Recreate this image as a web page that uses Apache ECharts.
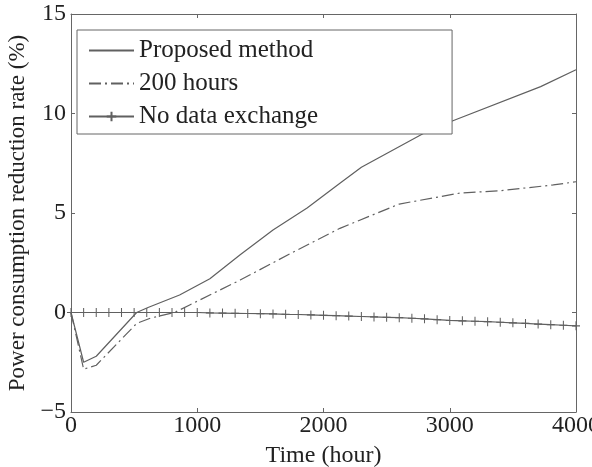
<!DOCTYPE html>
<html>
<head>
<meta charset="utf-8">
<script src="https://cdn.jsdelivr.net/npm/echarts@6/dist/echarts.min.js"></script>
<style>
html,body{margin:0;padding:0;background:#fff;}
#chart{width:592px;height:467px;}
</style>
</head>
<body>
<div id="chart"></div>
<script>
// Series names
const seriesNames = ['Proposed method', '200 hours', 'No data exchange'];

// Proposed method (read points)
const proposedHours = [0, 100, 200, 520, 610, 860, 1100, 1340, 1600, 1870, 2130, 2300, 2820, 3030, 3720, 4000];
const proposedValues = [0, -2.5, -2.2, 0.0, 0.25, 0.88, 1.7, 2.9, 4.15, 5.25, 6.5, 7.3, 9.1, 9.65, 11.35, 12.2];

// 200 hours (read points)
const h200Hours = [0, 100, 200, 520, 630, 820, 940, 1340, 1740, 2130, 2600, 3080, 3400, 3820, 4000];
const h200Values = [0, -2.85, -2.65, -0.55, -0.28, 0.0, 0.38, 1.63, 2.97, 4.23, 5.45, 6.0, 6.12, 6.41, 6.57];

// No data exchange (markers every 100 hours)
const noExHours = [0,100,200,300,400,500,600,700,800,900,1000,1100,1200,1300,1400,1500,1600,1700,1800,1900,2000,2100,2200,2300,2400,2500,2600,2700,2800,2900,3000,3100,3200,3300,3400,3500,3600,3700,3800,3900,4000];
const noExValues = [0,0,0,0,0,0,0,0,0,0,0,-0.02,-0.03,-0.04,-0.05,-0.06,-0.07,-0.09,-0.1,-0.12,-0.14,-0.16,-0.18,-0.2,-0.22,-0.24,-0.26,-0.29,-0.32,-0.36,-0.4,-0.42,-0.44,-0.46,-0.49,-0.52,-0.55,-0.58,-0.61,-0.64,-0.67];

// Axis ticks
const xTicks = [0, 1000, 2000, 3000, 4000];
const yTicks = [-5, 0, 5, 10, 15];

const xName = 'Time (hour)';
const yName = 'Power consumption reduction rate (%)';

function pairs(xs, ys) { return xs.map((x, i) => [x, ys[i]]); }
function fmt(v) { return v < 0 ? '\u2212' + (-v) : String(v); }

const FONT = 'Liberation Serif';
const LINE = '#606060';
const AX = '#666';
const TXT = '#222';

const chart = echarts.init(document.getElementById('chart'), null, {renderer: 'canvas'});

const xBase = {
  type: 'value', min: xTicks[0], max: xTicks[xTicks.length - 1], interval: 1000,
  splitLine: {show: false},
  axisLine: {show: true, onZero: false, lineStyle: {color: AX, width: 1}},
  axisTick: {show: true, inside: true, length: 4, lineStyle: {color: AX}}
};
const yBase = {
  type: 'value', min: yTicks[0], max: yTicks[yTicks.length - 1], interval: 5,
  splitLine: {show: false},
  axisLine: {show: true, onZero: false, lineStyle: {color: AX, width: 1}},
  axisTick: {show: true, inside: true, length: 4, lineStyle: {color: AX}}
};

const BLANK = 'path://M0,0L1,0L1,1L0,1Z';

chart.setOption({
  animation: false,
  backgroundColor: '#fff',
  grid: {left: 71, right: 16, top: 14, bottom: 55, containLabel: false, outerBoundsMode: 'none'},
  legend: {
    orient: 'vertical',
    left: 77, top: 30,
    data: seriesNames,
    itemWidth: 45, itemHeight: 12,
    itemGap: 8,
    padding: [8, 134, 5, 11],
    borderColor: AX, borderWidth: 1,
    backgroundColor: '#fff',
    textStyle: {fontFamily: FONT, fontSize: 25, color: TXT, lineHeight: 25},
    inactiveColor: '#ccc'
  },
  xAxis: [
    Object.assign({}, xBase, {
      position: 'bottom',
      axisLabel: {fontFamily: FONT, fontSize: 24, color: TXT, margin: 2, formatter: fmt},
      name: xName, nameLocation: 'middle', nameGap: 32,
      nameTextStyle: {fontFamily: FONT, fontSize: 24, color: TXT}
    }),
    Object.assign({}, xBase, {position: 'top', axisLabel: {show: false}})
  ],
  yAxis: [
    Object.assign({}, yBase, {
      position: 'left',
      axisLabel: {fontFamily: FONT, fontSize: 24, color: TXT, margin: 5, formatter: fmt},
      name: yName, nameLocation: 'middle', nameGap: 40,
      nameTextStyle: {fontFamily: FONT, fontSize: 23, color: TXT}
    }),
    Object.assign({}, yBase, {position: 'right', axisLabel: {show: false}})
  ],
  series: [
    {
      name: seriesNames[0], type: 'line', xAxisIndex: 0, yAxisIndex: 0,
      data: pairs(proposedHours, proposedValues),
      showSymbol: false, symbol: BLANK,
      lineStyle: {color: LINE, width: 1.2, type: 'solid'},
      itemStyle: {color: 'none', borderColor: 'none', borderWidth: 0},
      z: 3
    },
    {
      name: seriesNames[1], type: 'line', xAxisIndex: 0, yAxisIndex: 0,
      data: pairs(h200Hours, h200Values),
      showSymbol: false, symbol: BLANK,
      lineStyle: {color: LINE, width: 1.2, type: [12, 4, 2, 4]},
      itemStyle: {color: 'none', borderColor: 'none', borderWidth: 0},
      z: 3
    },
    {
      name: seriesNames[2], type: 'line', xAxisIndex: 0, yAxisIndex: 0,
      data: pairs(noExHours, noExValues),
      symbol: 'path://M5,0L5,10M0,5L10,5',
      symbolSize: [8, 9],
      showSymbol: true,
      lineStyle: {color: LINE, width: 1.2},
      itemStyle: {color: 'none', borderColor: LINE, borderWidth: 1.1},
      z: 3
    }
  ]
});
</script>
</body>
</html>
